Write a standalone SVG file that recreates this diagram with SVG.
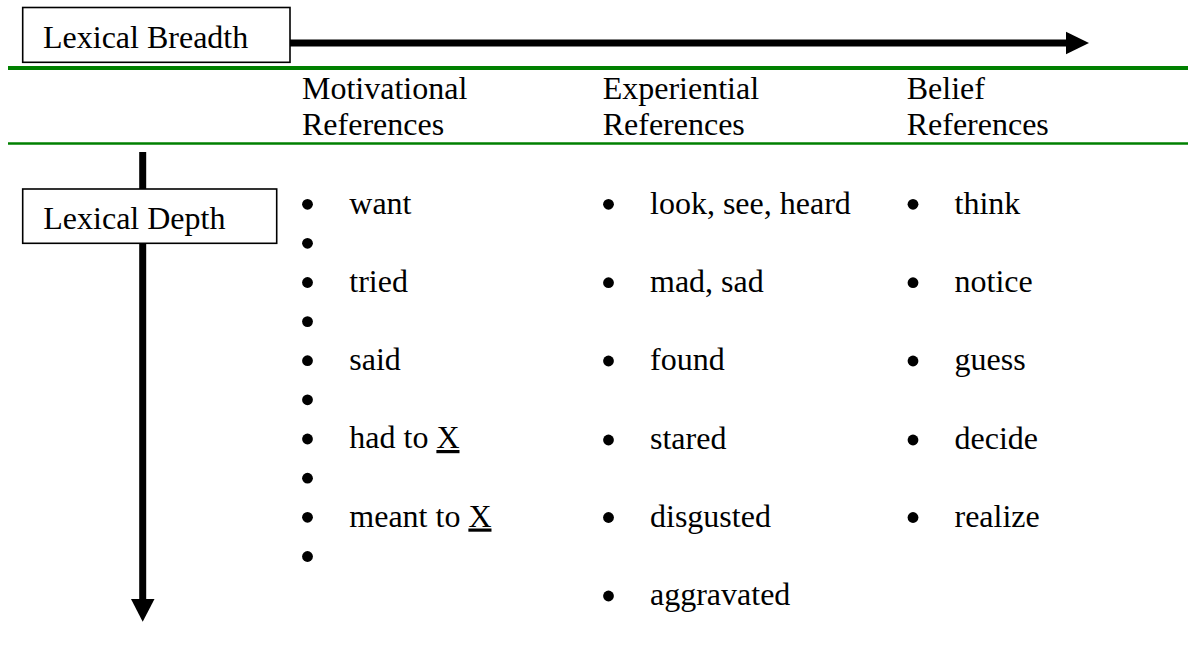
<svg xmlns="http://www.w3.org/2000/svg" width="1188" height="648" viewBox="0 0 1188 648">
<style>
text{font-family:"Liberation Serif","Times New Roman",serif;font-size:32px;fill:#000}
.box{fill:#fff;stroke:#000;stroke-width:1.6}
.green{stroke:#008000;fill:none}
.shaft{stroke:#000;stroke-width:7;fill:none}
.dot{fill:#000}
</style>
<rect width="1188" height="648" fill="#fff"/>
<g id="rules">
<line class="green" x1="8" y1="68" x2="1188" y2="68" stroke-width="4"/>
<line class="green" x1="8" y1="143.5" x2="1188" y2="143.5" stroke-width="2.6"/>
</g>
<g id="connectors">
<line class="shaft" x1="290" y1="43" x2="1068" y2="43"/>
<polygon points="1066,31.7 1089,43 1066,54.3" fill="#000"/>
<line class="shaft" x1="142.7" y1="152" x2="142.7" y2="601"/>
<polygon points="131,599 154.5,599 142.7,621.7" fill="#000"/>
</g>
<g id="lexical-breadth">
<rect class="box" x="22.7" y="7.5" width="267.3" height="54.8"/>
<text x="43" y="47.7">Lexical Breadth</text>
</g>
<g id="lexical-depth">
<rect class="box" x="22.7" y="189" width="254" height="54.3"/>
<text x="43.3" y="228.5">Lexical Depth</text>
</g>
<g id="motivational">
<text x="302" y="98.5">Motivational</text>
<text x="302" y="135">References</text>
<circle class="dot" cx="307.5" cy="204.3" r="5.4"/>
<text x="349.3" y="213.5">want</text>
<circle class="dot" cx="307.5" cy="243.3" r="5.4"/>
<circle class="dot" cx="307.5" cy="282.5" r="5.4"/>
<text x="349.3" y="291.7">tried</text>
<circle class="dot" cx="307.5" cy="321.6" r="5.4"/>
<circle class="dot" cx="307.5" cy="360.7" r="5.4"/>
<text x="349.3" y="369.9">said</text>
<circle class="dot" cx="307.5" cy="399.8" r="5.4"/>
<circle class="dot" cx="307.5" cy="439" r="5.4"/>
<text x="349.3" y="448">had to <tspan text-decoration="underline">X</tspan></text>
<circle class="dot" cx="307.5" cy="478.2" r="5.4"/>
<circle class="dot" cx="307.5" cy="517.3" r="5.4"/>
<text x="349.3" y="526.5">meant to <tspan text-decoration="underline">X</tspan></text>
<circle class="dot" cx="307.5" cy="556.5" r="5.4"/>
</g>
<g id="experiential">
<text x="602.7" y="98.5">Experiential</text>
<text x="602.7" y="135">References</text>
<circle class="dot" cx="608.5" cy="204.3" r="5.4"/>
<text x="650" y="213.5">look, see, heard</text>
<circle class="dot" cx="608.5" cy="282.7" r="5.4"/>
<text x="650" y="291.9">mad, sad</text>
<circle class="dot" cx="608.5" cy="361" r="5.4"/>
<text x="650" y="370.2">found</text>
<circle class="dot" cx="608.5" cy="440" r="5.4"/>
<text x="650" y="449.2">stared</text>
<circle class="dot" cx="608.5" cy="517.5" r="5.4"/>
<text x="650" y="526.7">disgusted</text>
<circle class="dot" cx="608.5" cy="596" r="5.4"/>
<text x="650" y="605.2">aggravated</text>
</g>
<g id="belief">
<text x="906.7" y="98.5">Belief</text>
<text x="906.7" y="135">References</text>
<circle class="dot" cx="913" cy="204.3" r="5.4"/>
<text x="954.5" y="213.5">think</text>
<circle class="dot" cx="913" cy="282.7" r="5.4"/>
<text x="954.5" y="291.9">notice</text>
<circle class="dot" cx="913" cy="361" r="5.4"/>
<text x="954.5" y="370.2">guess</text>
<circle class="dot" cx="913" cy="440" r="5.4"/>
<text x="954.5" y="449.2">decide</text>
<circle class="dot" cx="913" cy="517.5" r="5.4"/>
<text x="954.5" y="526.7">realize</text>
</g>
</svg>
